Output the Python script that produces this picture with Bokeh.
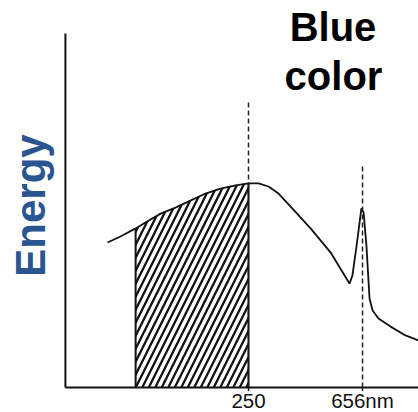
from bokeh.plotting import figure
from bokeh.models import Range1d, Label
from bokeh.core.properties import value
from bokeh.embed import file_html
from bokeh.resources import INLINE

# Emission spectrum (relative energy vs wavelength)
wavelength = [-252, -206, -152, -117, -63, -10, 43, 97, 150, 204, 250, 286, 321, 357,
              400, 471, 542, 610, 620, 635, 652, 660, 670, 681, 692, 713, 756, 809, 855]
energy = [41.2, 42.9, 45.2, 46.9, 49.4, 51.1, 53.1, 55.1, 56.5, 57.4, 58.0, 58.0, 57.1, 55.1,
          51.4, 45.2, 38.4, 29.5, 31.8, 40.3, 50.9, 49.7, 40.3, 25.3, 21.9, 19.6, 17.3, 14.8, 13.4]

# Blue band boundaries and marker lines
band_start = -152
band_end = 250
peak_line = 656
marker_tops = [81.5, 63.0]
tick_values = [250, 656]
tick_labels = ["250", "656nm"]

# Axis extents
x_axis_start = -402
x_axis_end = 855.4
y_axis_top = 100.6

p = figure(width=418, height=412, output_backend="svg", toolbar_location=None,
           x_range=Range1d(-633.2, 855.4), y_range=Range1d(-7.10, 109.94),
           min_border=0)
p.outline_line_color = None
p.grid.visible = False
p.axis.visible = False
p.background_fill_color = "white"

ink = "#111111"

# Axis lines
p.segment(x0=[x_axis_start, x_axis_start], y0=[0, 0], x1=[x_axis_end, x_axis_start],
          y1=[0, y_axis_top], line_color=ink, line_width=2)
# Tick marks and tick labels
p.segment(x0=tick_values, y0=[0, 0], x1=tick_values, y1=[-1.0, -1.0],
          line_color=ink, line_width=1.5)
p.text(x=tick_values, y=[-3.8, -3.8], text=tick_labels, text_align="center",
       text_baseline="alphabetic", text_font=value("Liberation Sans"),
       text_font_size="20.5px", text_color=ink)

# Hatched blue band under the curve
band_x = [x for x in wavelength if band_start <= x <= band_end]
band_y = [y for x, y in zip(wavelength, energy) if band_start <= x <= band_end]
p.varea(x=band_x, y1=[0] * len(band_x), y2=band_y, fill_color=None, fill_alpha=0,
        hatch_pattern="/", hatch_color=ink, hatch_scale=13, hatch_weight=2.3)
p.segment(x0=[band_start, band_end], y0=[0, 0], x1=[band_start, band_end],
          y1=[band_y[0], band_y[-1]], line_color=ink, line_width=2)

# Dashed marker lines
p.segment(x0=[band_end, peak_line], y0=[0, 0], x1=[band_end, peak_line], y1=marker_tops,
          line_color="#222222", line_width=1.5, line_dash="5 3")

# Spectrum curve
p.line(wavelength, energy, line_color=ink, line_width=1.8)

p.add_layout(Label(x=-526.4, y=51.7, text="Energy", angle=1.5708, text_align="center",
                   text_baseline="alphabetic", text_font="Liberation Sans",
                   text_font_style="bold", text_font_size="42px", text_color="#2A5590"))
p.add_layout(Label(x=551, y=102.3, text="Blue", text_align="center",
                   text_baseline="alphabetic", text_font="Liberation Sans",
                   text_font_style="bold", text_font_size="40px", text_color="#000000"))
p.add_layout(Label(x=552.7, y=88.4, text="color", text_align="center",
                   text_baseline="alphabetic", text_font="Liberation Sans",
                   text_font_style="bold", text_font_size="40px", text_color="#000000"))

open("out.html", "w").write(file_html(p, INLINE))
